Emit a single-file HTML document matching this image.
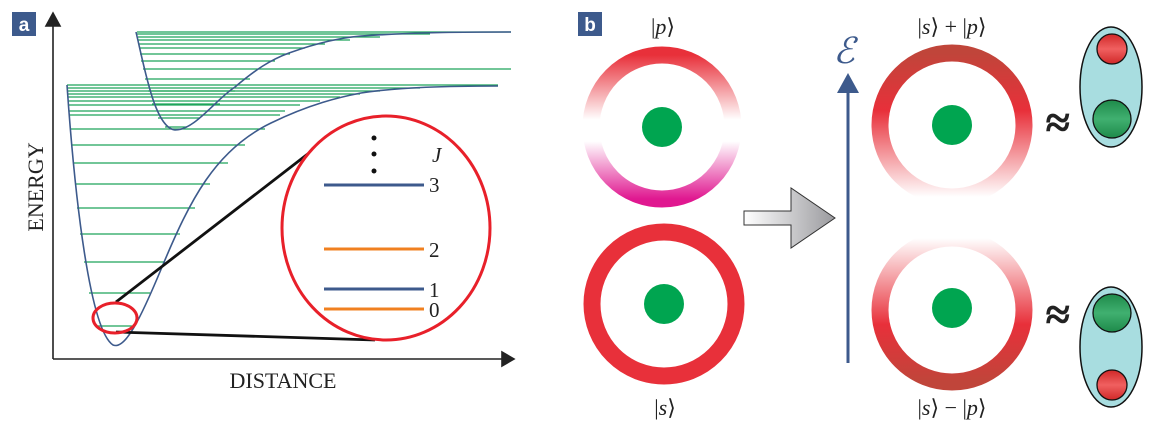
<!DOCTYPE html>
<html><head><meta charset="utf-8"><style>body{margin:0;background:#fff}svg{display:block}</style></head><body>
<svg width="1149" height="430" viewBox="0 0 1149 430" xmlns="http://www.w3.org/2000/svg" font-family="Liberation Serif, serif">
<defs>
<linearGradient id="gp" x1="0" y1="0" x2="0" y2="1"><stop offset="0" stop-color="#e8303a"/><stop offset="0.45" stop-color="#fff" stop-opacity="1"/><stop offset="0.6" stop-color="#fff"/><stop offset="1" stop-color="#e01890"/></linearGradient>
<linearGradient id="gt" x1="0" y1="0" x2="0" y2="1"><stop offset="0" stop-color="#c0453a"/><stop offset="0.4" stop-color="#e8303a"/><stop offset="1" stop-color="#fff"/></linearGradient>
<linearGradient id="gb" x1="0" y1="0" x2="0" y2="1"><stop offset="0" stop-color="#fff"/><stop offset="0.6" stop-color="#e8303a"/><stop offset="1" stop-color="#c0453a"/></linearGradient>
<linearGradient id="ga" x1="0" y1="0" x2="1" y2="0"><stop offset="0" stop-color="#fff"/><stop offset="1" stop-color="#9a9a9e"/></linearGradient>
<linearGradient id="rb" x1="0" y1="0" x2="0" y2="1"><stop offset="0" stop-color="#d02828"/><stop offset="0.5" stop-color="#f06060"/><stop offset="1" stop-color="#d02828"/></linearGradient>
<linearGradient id="gr" x1="0" y1="0" x2="0" y2="1"><stop offset="0" stop-color="#1e8a4a"/><stop offset="0.5" stop-color="#40b070"/><stop offset="1" stop-color="#1e8a4a"/></linearGradient>
</defs>
<!-- panel a -->
<rect x="12" y="12" width="24" height="24" fill="#3d5a8c"/>
<text x="24" y="31" font-family="Liberation Sans, sans-serif" font-weight="bold" font-size="19" fill="#fff" text-anchor="middle">a</text>
<g stroke="#1fa55a" stroke-width="1.3">
<line x1="67" y1="85" x2="498" y2="85"/><line x1="67" y1="88" x2="420" y2="88"/><line x1="68" y1="91" x2="380" y2="91"/><line x1="68" y1="94" x2="360" y2="94"/><line x1="68" y1="97" x2="340" y2="97"/><line x1="68" y1="101" x2="320" y2="101"/><line x1="69" y1="105" x2="300" y2="105"/><line x1="69" y1="111" x2="285" y2="111"/><line x1="70" y1="115" x2="280" y2="115"/><line x1="71" y1="129" x2="265" y2="129"/><line x1="72" y1="145" x2="245" y2="145"/><line x1="73" y1="163" x2="228" y2="163"/><line x1="75" y1="184" x2="210" y2="184"/><line x1="77" y1="208" x2="195" y2="208"/><line x1="80" y1="234" x2="180" y2="234"/><line x1="84" y1="262" x2="165" y2="262"/><line x1="89" y1="293" x2="150" y2="293"/><line x1="95" y1="326" x2="132" y2="326"/>
<line x1="137" y1="32" x2="511" y2="32"/><line x1="137" y1="34" x2="430" y2="34"/><line x1="138" y1="37" x2="380" y2="37"/><line x1="138" y1="40" x2="350" y2="40"/><line x1="139" y1="44" x2="325" y2="44"/><line x1="139" y1="48" x2="305" y2="48"/><line x1="140" y1="54" x2="290" y2="54"/><line x1="141" y1="61" x2="275" y2="61"/><line x1="143" y1="69" x2="511" y2="69"/><line x1="145" y1="79" x2="250" y2="79"/><line x1="148" y1="91" x2="235" y2="91"/><line x1="152" y1="104" x2="220" y2="104"/><line x1="158" y1="118" x2="200" y2="118"/><line x1="165" y1="127" x2="187" y2="127"/>
</g>
<g fill="none" stroke="#3d5a8c" stroke-width="1.6">
<path d="M67 85 C75 200 90 330 113 345 C125 350 140 320 162 267 C190 200 215 150 271 123 C310 104 340 97 361 93 C400 87 450 86 498 86"/>
<path d="M136 32 C145 70 155 128 175 130 C195 130 215 100 235 87 C255 70 270 60 289 53 C320 42 340 38 361 36 C420 32 470 32 511 32"/>
</g>
<g stroke="#222" stroke-width="1.6" fill="#222">
<line x1="53" y1="359" x2="53" y2="22"/><polygon points="46,26 60,26 53,13"/>
<line x1="53" y1="359" x2="505" y2="359"/><polygon points="502,352 502,366 514,359"/>
</g>
<g stroke="#111" stroke-width="2.8"><line x1="116" y1="302" x2="309" y2="153"/><line x1="116" y1="332" x2="375" y2="340"/></g>
<ellipse cx="386" cy="228" rx="104" ry="112" fill="#fff" stroke="#e8202a" stroke-width="3"/>
<ellipse cx="115" cy="318" rx="22" ry="15" fill="none" stroke="#e8202a" stroke-width="3"/>
<g stroke-width="3"><line x1="324" y1="185" x2="424" y2="185" stroke="#3d5a8c"/><line x1="324" y1="249" x2="424" y2="249" stroke="#f08020"/><line x1="324" y1="289" x2="424" y2="289" stroke="#3d5a8c"/><line x1="324" y1="309" x2="424" y2="309" stroke="#f08020"/></g>
<g fill="#111"><circle cx="374" cy="138" r="2.5"/><circle cx="374" cy="154" r="2.5"/><circle cx="374" cy="171" r="2.5"/></g>
<g font-size="21" fill="#222"><text x="429" y="192">3</text><text x="429" y="257">2</text><text x="429" y="297">1</text><text x="429" y="317">0</text><text x="432" y="162" font-style="italic">J</text>
<text x="283" y="388" text-anchor="middle" font-size="22">DISTANCE</text>
<text transform="translate(43,187) rotate(-90)" text-anchor="middle" font-size="22">ENERGY</text></g>
<!-- panel b -->
<rect x="578" y="12" width="24" height="24" fill="#3d5a8c"/>
<text x="590" y="31" font-family="Liberation Sans, sans-serif" font-weight="bold" font-size="19" fill="#fff" text-anchor="middle">b</text>
<ellipse cx="662" cy="127" rx="71" ry="72" fill="none" stroke="url(#gp)" stroke-width="17"/>
<ellipse cx="664" cy="304" rx="72" ry="72" fill="none" stroke="#e8303a" stroke-width="17"/>
<ellipse cx="952" cy="125" rx="72" ry="72" fill="none" stroke="url(#gt)" stroke-width="17"/>
<ellipse cx="952" cy="310" rx="72" ry="72" fill="none" stroke="url(#gb)" stroke-width="17"/>
<g fill="#00a550"><ellipse cx="662" cy="127" rx="20" ry="20"/><ellipse cx="664" cy="304" rx="20" ry="20"/><ellipse cx="952" cy="125" rx="20" ry="20"/><ellipse cx="952" cy="308" rx="20" ry="20"/></g>
<polygon points="744,211 791,211 791,188 835,218 791,248 791,225 744,225" fill="url(#ga)" stroke="#333" stroke-width="1"/>
<line x1="848" y1="363" x2="848" y2="90" stroke="#3d5a8c" stroke-width="3"/>
<polygon points="837,93 859,93 848,73" fill="#3d5a8c"/>
<text x="844" y="63" font-size="36" font-style="italic" fill="#3d5a8c" text-anchor="middle">ℰ</text>
<g font-size="22" fill="#222" text-anchor="middle"><text x="663" y="34">|<tspan font-style="italic">p</tspan>⟩</text><text x="665" y="415">|<tspan font-style="italic">s</tspan>⟩</text>
<text x="952" y="34">|<tspan font-style="italic">s</tspan>⟩ + |<tspan font-style="italic">p</tspan>⟩</text><text x="952" y="415">|<tspan font-style="italic">s</tspan>⟩ − |<tspan font-style="italic">p</tspan>⟩</text></g>
<g font-size="44" fill="#222" stroke="#222" stroke-width="1.5" text-anchor="middle"><text x="1058" y="137">≈</text><text x="1058" y="329">≈</text></g>
<ellipse cx="1111" cy="87" rx="31" ry="60" fill="#a8dde0" stroke="#111" stroke-width="1.5"/>
<circle cx="1112" cy="49" r="15" fill="url(#rb)" stroke="#111" stroke-width="1.3"/>
<circle cx="1112" cy="119" r="19" fill="url(#gr)" stroke="#111" stroke-width="1.3"/>
<ellipse cx="1111" cy="347" rx="31" ry="60" fill="#a8dde0" stroke="#111" stroke-width="1.5"/>
<circle cx="1112" cy="313" r="19" fill="url(#gr)" stroke="#111" stroke-width="1.3"/>
<circle cx="1112" cy="385" r="15" fill="url(#rb)" stroke="#111" stroke-width="1.3"/>
</svg>
</body></html>
